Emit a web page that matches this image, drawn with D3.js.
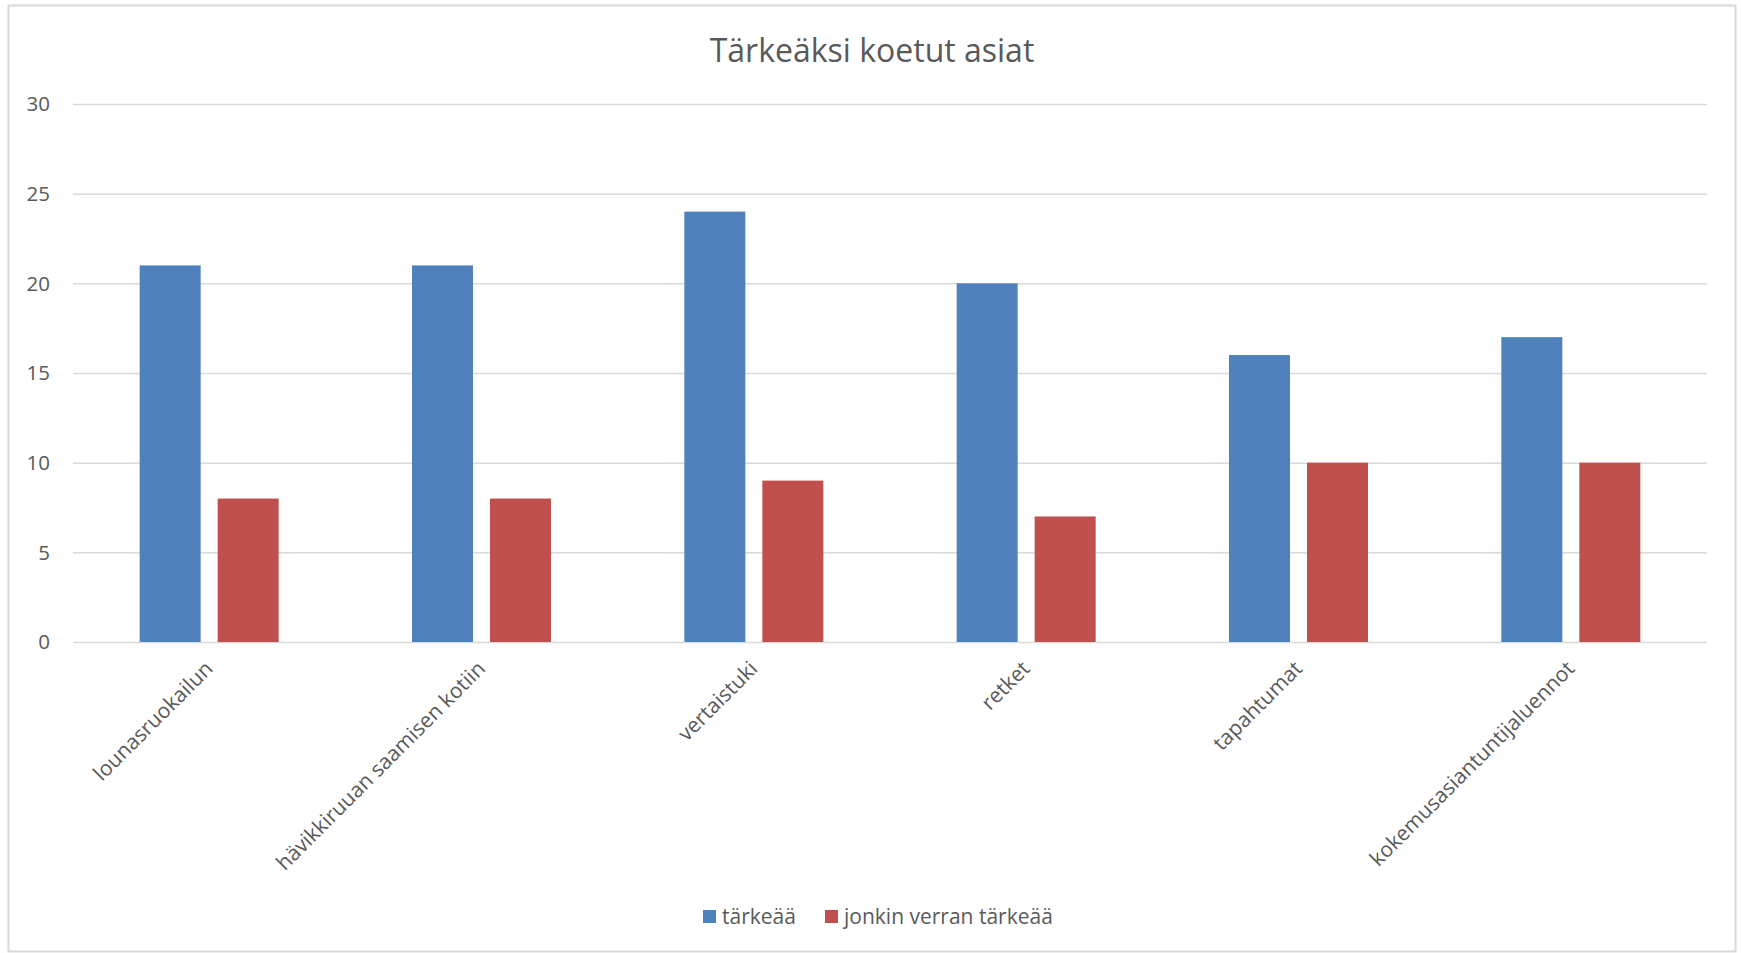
<!DOCTYPE html>
<html>
<head>
<meta charset="utf-8">
<script src="https://cdn.jsdelivr.net/npm/d3@7"></script>
<style>
  body { margin: 0; background: #fff; }
  text { font-family: "Open Sans", Lato, sans-serif; fill: #595959; }
</style>
</head>
<body>
<div id="chart"></div>
<script>
// data
var categories = ["lounasruokailun", "hävikkiruuan saamisen kotiin", "vertaistuki",
  "retket", "tapahtumat", "kokemusasiantuntijaluennot"];
var seriesNames = ["tärkeää", "jonkin verran tärkeää"];
var importantValues = [21, 21, 24, 20, 16, 17];
var somewhatValues = [8, 8, 9, 7, 10, 10];
var yTicks = [0, 5, 10, 15, 20, 25, 30];
var colors = ["#4F81BD", "#C0504D"];

var svgWidth = 1741;
var svgHeight = 953;

var margin = { top: 104, right: 34, bottom: 311, left: 73 };
var width = svgWidth - margin.left - margin.right;
var height = 642 - margin.top;

var svg = d3.select("#chart")
  .append("svg")
  .attr("width", svgWidth)
  .attr("height", svgHeight);

// chart border
svg.append("rect")
  .attr("x", 8.5).attr("y", 5.5)
  .attr("width", 1727).attr("height", 946)
  .attr("fill", "none")
  .attr("stroke", "#D9D9D9")
  .attr("stroke-width", 2);

// title
svg.append("text")
  .attr("x", 872)
  .attr("y", 62)
  .attr("text-anchor", "middle")
  .attr("font-size", "32px")
  .text("Tärkeäksi koetut asiat");

var chartGroup = svg.append("g")
  .attr("transform", `translate(${margin.left}, ${margin.top})`);

var rows = categories.map(function(c, i) {
  return { cat: c, values: [importantValues[i], somewhatValues[i]] };
});

var x0 = d3.scaleBand().domain(categories).range([0, width]);
var groupW = 139;
var x1 = d3.scaleBand().domain([0, 1]).range([0, groupW]).paddingInner(0.218);
var y = d3.scaleLinear().domain([0, 30]).range([height, 0]);

// gridlines
chartGroup.append("g")
  .call(d3.axisLeft(y).tickValues(yTicks).tickSize(-width).tickFormat(""))
  .call(g => g.select(".domain").remove())
  .call(g => g.selectAll("line").attr("stroke", "#D9D9D9").attr("stroke-width", 1.5));

// y labels
chartGroup.append("g")
  .selectAll("text")
  .data(yTicks)
  .enter()
  .append("text")
  .attr("x", -23)
  .attr("y", d => y(d))
  .attr("dy", "0.35em")
  .attr("text-anchor", "end")
  .attr("font-size", "20.5px")
  .text(d => d);

// bars
var groups = chartGroup.selectAll(".cat")
  .data(rows)
  .enter()
  .append("g")
  .attr("transform", d => `translate(${x0(d.cat) + x0.bandwidth() / 2 - groupW / 2}, 0)`);

groups.selectAll("rect")
  .data(d => d.values)
  .enter()
  .append("rect")
  .attr("x", (d, i) => x1(i))
  .attr("y", d => y(d))
  .attr("width", x1.bandwidth())
  .attr("height", d => height - y(d))
  .attr("fill", (d, i) => colors[i]);

// x labels, rotated
chartGroup.append("g")
  .selectAll("text")
  .data(categories)
  .enter()
  .append("text")
  .attr("text-anchor", "end")
  .attr("font-size", "21px")
  .attr("transform", d => `translate(${x0(d) + x0.bandwidth() / 2 + 5}, ${height + 28}) rotate(-45)`)
  .text(d => d);

// legend
var legend = svg.append("g").attr("transform", "translate(703, 910)");
var legendX = [0, 122];
seriesNames.forEach(function(name, i) {
  legend.append("rect")
    .attr("x", legendX[i]).attr("y", 0)
    .attr("width", 13).attr("height", 13)
    .attr("fill", colors[i]);
  legend.append("text")
    .attr("x", legendX[i] + 19)
    .attr("y", 13.5)
    .attr("font-size", "21px")
    .text(name);
});
</script>
</body>
</html>
